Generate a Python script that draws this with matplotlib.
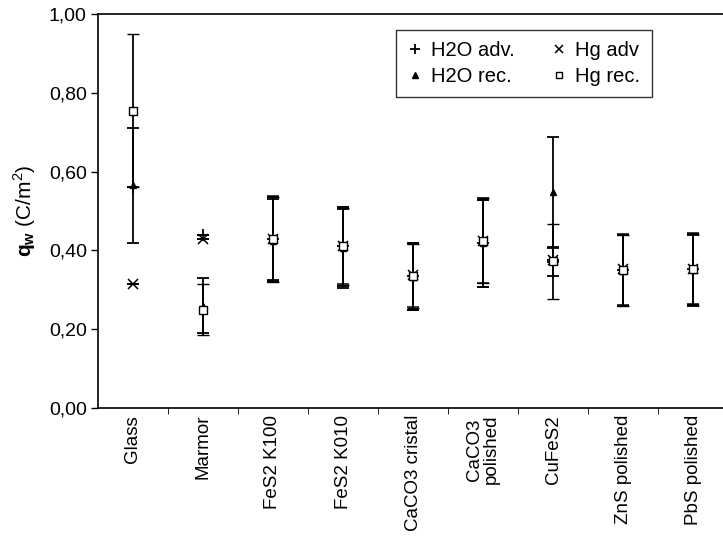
import numpy as np
import matplotlib
matplotlib.use("Agg")
import matplotlib.pyplot as plt
from matplotlib.ticker import FuncFormatter

plt.rcParams['font.family'] = ['Liberation Sans', 'DejaVu Sans']
plt.rcParams['mathtext.fontset'] = 'custom'
plt.rcParams['mathtext.rm'] = 'Liberation Sans'
plt.rcParams['mathtext.bf'] = 'Liberation Sans:bold'

materials = ['Glass', 'Marmor', 'FeS2 K100', 'FeS2 K010', 'CaCO3 cristal',
             'CaCO3\npolished', 'CuFeS2', 'ZnS polished', 'PbS polished']

h2o_adv = [0.56, 0.44, 0.43, 0.41, 0.335, 0.418, 0.37, 0.35, 0.352]
h2o_adv_err = [0.0, 0.0, 0.105, 0.10, 0.085, 0.11, 0.035, 0.09, 0.09]
h2o_rec = [0.565, 0.26, 0.425, 0.405, 0.333, 0.418, 0.548, 0.348, 0.35]
h2o_rec_err = [0.145, 0.07, 0.105, 0.10, 0.085, 0.11, 0.14, 0.09, 0.09]
hg_adv = [0.315, 0.43, 0.43, 0.412, 0.337, 0.425, 0.375, 0.352, 0.354]
hg_adv_err = [0.0, 0.0, 0.107, 0.097, 0.08, 0.108, 0.0, 0.09, 0.09]
hg_rec = [0.755, 0.25, 0.428, 0.41, 0.335, 0.425, 0.372, 0.35, 0.352]
hg_rec_err = [0.195, 0.065, 0.107, 0.097, 0.08, 0.108, 0.095, 0.09, 0.09]

x = np.arange(len(materials))

fig = plt.figure(figsize=(7.23, 5.6), dpi=100)
ax = fig.add_axes([0.1355, 0.2714, 0.8715, 0.7036])

ekw = dict(ecolor='black', elinewidth=1.3, capsize=4.5, capthick=1.3, linestyle='none')
ax.errorbar(x, h2o_adv, yerr=h2o_adv_err, fmt='+', color='black', ms=9, mew=1.3,
            label='H2O adv.', **ekw)
ax.errorbar(x, hg_adv, yerr=hg_adv_err, fmt='x', color='black', ms=7, mew=1.1,
            label='Hg adv', **ekw)
ax.errorbar(x, h2o_rec, yerr=h2o_rec_err, fmt='^', color='black', ms=5,
            label='H2O rec.', **ekw)
ax.errorbar(x, hg_rec, yerr=hg_rec_err, fmt='s', mfc='white', mec='black', ms=6,
            mew=1.0, label='Hg rec.', **ekw)

ax.set_xlim(-0.5, 8.5)
ax.set_ylim(0, 1.0)
ax.set_yticks(np.arange(0, 1.01, 0.2))
ax.yaxis.set_major_formatter(FuncFormatter(lambda v, p: f'{v:.2f}'.replace('.', ',')))
ax.tick_params(axis='y', direction='out', length=5, labelsize=14, width=1, pad=3)

ax.set_xticks(x)
ax.set_xticklabels(materials, rotation=90, fontsize=13.5, va='top', ha='center',
                   linespacing=1.0)
ax.tick_params(axis='x', which='major', length=0, pad=5)
ax.set_xticks(x[:-1] + 0.5, minor=True)
ax.tick_params(axis='x', which='minor', direction='out', length=4)

for s in ax.spines.values():
    s.set_linewidth(1.2)

ax.set_ylabel(r'$\mathbf{q_w}$ (C/m$^2$)', fontsize=15, labelpad=8)

handles, labels = ax.get_legend_handles_labels()
order = [0, 2, 1, 3]
leg = ax.legend([handles[i][0] for i in order], [labels[i] for i in order], ncol=2,
                loc='upper left', bbox_to_anchor=(0.457, 0.985), fontsize=14.5,
                frameon=True, fancybox=False, edgecolor='black', handlelength=0.8,
                handletextpad=0.4, columnspacing=1.8, borderpad=0.55, labelspacing=0.35,
                markerscale=0.8)
leg.get_frame().set_linewidth(1.0)

fig.savefig('out.png', dpi=100)
